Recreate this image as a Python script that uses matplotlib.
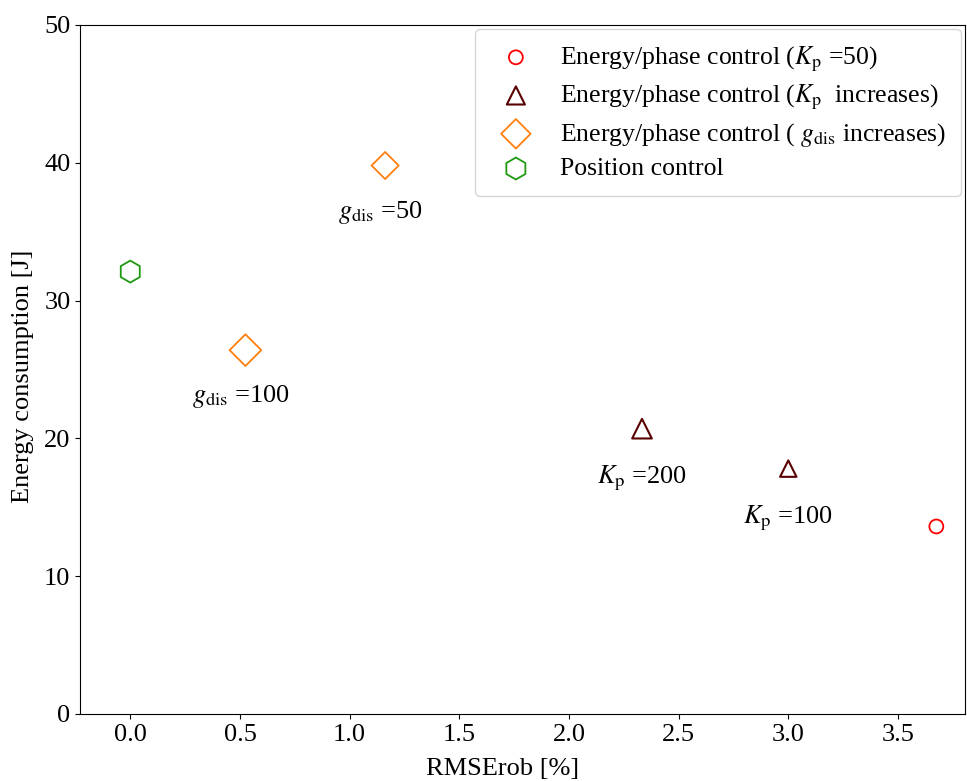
import numpy as np
import matplotlib
matplotlib.use('Agg')
import matplotlib.pyplot as plt

plt.rcParams['font.family'] = ['Liberation Serif', 'DejaVu Serif']
plt.rcParams['mathtext.fontset'] = 'stix'
plt.rcParams['font.size'] = 19

# data
kp50_x = [3.675]
kp50_y = [13.6]
kp_x = [2.333, 3.0]
kp_y = [20.7, 17.8]
kp_labels = ['$K_{\\rm p}$ =200', '$K_{\\rm p}$ =100']
g_x = [0.525, 1.162]
g_y = [26.4, 39.8]
g_labels = ['$g_{\\rm dis}$ =100', '$g_{\\rm dis}$ =50']
pos_x = [0.0]
pos_y = [32.1]

fig, ax = plt.subplots(figsize=(9.67, 7.81), dpi=100)
fig.subplots_adjust(left=0.083, right=0.998, top=0.968, bottom=0.086)

ax.scatter(kp50_x, kp50_y, s=100, marker='o', facecolors='none',
           edgecolors='red', linewidths=1.3, label='Energy/phase control ($K_{\\rm p}$ =50)')
ax.scatter(kp_x, kp_y, s=[200, 140], marker='^', facecolors='none',
           edgecolors='#5a0000', linewidths=1.5, label='Energy/phase control ($K_{\\rm p}$  increases)')
ax.scatter(g_x, g_y, s=[260, 190], marker='D', facecolors='none',
           edgecolors='#ff7f0e', linewidths=1.3, label='Energy/phase control ( $g_{\\rm dis}$ increases)')
ax.scatter(pos_x, pos_y, s=250, marker='h', facecolors='none',
           edgecolors='#1f9a10', linewidths=1.3, label='Position control')

# annotations under points
for x, y, t in zip(kp_x, kp_y, kp_labels):
    ax.text(x, y - 3.6, t, ha='center', va='center')
for x, y, t in zip(g_x, g_y, g_labels):
    ax.text(x - 0.02, y - 3.4, t, ha='center', va='center')

ax.set_xlim(-0.228, 3.806)
ax.set_ylim(0, 50)
ax.set_xticks(np.arange(0, 3.51, 0.5))
ax.set_yticks(np.arange(0, 51, 10))
ax.set_xlabel('RMSErob [%]')
ax.set_ylabel('Energy consumption [J]')
ax.xaxis.set_label_coords(0.477, -0.064)
ax.yaxis.set_label_coords(-0.052, 0.49)
ax.legend(loc='upper right', fontsize=18.5, handletextpad=0.7,
          borderaxespad=0.15, labelspacing=0.34, borderpad=0.6)

fig.savefig('out.png', dpi=100)
